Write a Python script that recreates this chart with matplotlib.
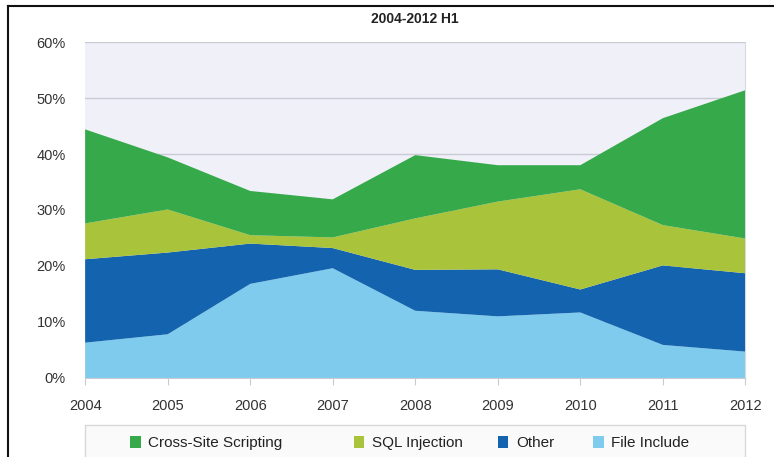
import numpy as np
import matplotlib.pyplot as plt
from matplotlib.patches import Patch, Rectangle
from matplotlib.lines import Line2D

# -----------------------------
# DATA (percent)
# -----------------------------

years = [2004, 2005, 2006, 2007, 2008, 2009, 2010, 2011, 2012]

file_include = [6.3, 7.8, 16.8, 19.6, 12.0, 11.0, 11.7, 5.9, 4.7]
other = [14.9, 14.6, 7.2, 3.6, 7.3, 8.4, 4.1, 14.2, 14.0]
sql_injection = [6.4, 7.7, 1.5, 1.9, 9.2, 12.1, 17.9, 7.2, 6.2]
cross_site = [16.8, 9.3, 7.9, 6.8, 11.3, 6.5, 4.3, 19.1, 26.5]

labels = ["File Include", "Other", "SQL Injection", "Cross-Site Scripting"]
colors = ["#7ecbee", "#1463ae", "#a9c43a", "#36a94a"]

yticks = [0, 10, 20, 30, 40, 50, 60]

# -----------------------------
# FIGURE
# -----------------------------

plt.rcParams['font.family'] = ['Liberation Sans', 'DejaVu Sans']

fig = plt.figure(figsize=(7.74, 4.57), dpi=100)
ax = fig.add_axes([0.110, 0.173, 0.853, 0.735])
ax.set_facecolor("#eff0f8")

ax.stackplot(years, file_include, other, sql_injection, cross_site,
             colors=colors, linewidth=0, zorder=3)

ax.set_xlim(years[0], years[-1])
ax.set_ylim(0, 60)
ax.set_xticks(years)
ax.set_yticks(yticks)
ax.set_yticklabels([f"{v}%" for v in yticks])

ax.grid(axis="y", color="#c9cad4", linewidth=1.0, zorder=1)
ax.tick_params(axis="y", length=0, pad=14, labelsize=10.5, labelcolor="#333333")
ax.tick_params(axis="x", length=5, width=0.8, color="#c9cad4", pad=10,
               labelsize=10.5, labelcolor="#333333")

for side in ["top", "left"]:
    ax.spines[side].set_visible(False)
ax.spines["right"].set_color("#d8d9e0")
ax.spines["bottom"].set_color("#c9cad4")

ax.set_title("2004-2012 H1", fontsize=10, fontweight="bold",
             color="#222222", pad=14)

# -----------------------------
# LEGEND BOX AT BOTTOM
# -----------------------------

fig.patches.append(Rectangle((0.110, -0.02), 0.853, 0.09,
                             transform=fig.transFigure,
                             facecolor="#fafafa", edgecolor="#d8d8d8",
                             linewidth=1.0))

# one legend per entry so each sits where it does in the original
legend_x = [0.168, 0.457, 0.643, 0.766]
handles = [Patch(facecolor=c, label=l) for c, l in zip(colors, labels)][::-1]
for h, x in zip(handles, legend_x):
    leg = fig.legend(handles=[h], loc="center left", bbox_to_anchor=(x, 0.031),
                     frameon=False, fontsize=11, handlelength=0.7,
                     handleheight=0.9, handletextpad=0.5, borderpad=0,
                     borderaxespad=0)
    for t in leg.get_texts():
        t.set_color("#222222")

# -----------------------------
# OUTER FRAME (top and left)
# -----------------------------

fig.add_artist(Line2D([0.010, 1.0], [0.987, 0.987], color="#111111",
                      linewidth=1.5, transform=fig.transFigure))
fig.add_artist(Line2D([0.010, 0.010], [0.0, 0.987], color="#111111",
                      linewidth=1.5, transform=fig.transFigure))

plt.savefig("out.png", dpi=100)
